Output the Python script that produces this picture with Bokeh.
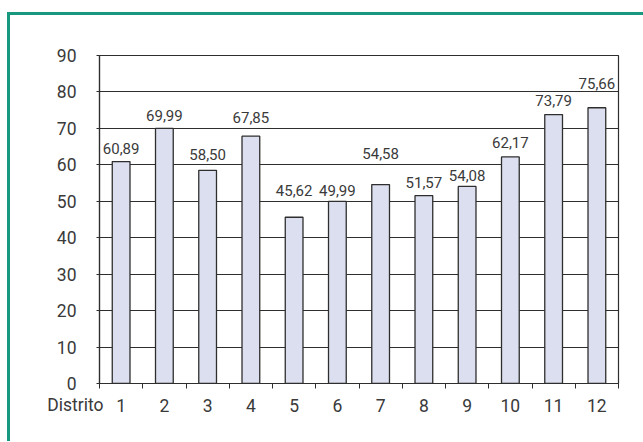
from bokeh.plotting import figure
from bokeh.layouts import column, row
from bokeh.models import Range1d, FixedTicker, Label, ColumnDataSource, Div
from bokeh.core.properties import value
from bokeh.embed import file_html
from bokeh.resources import INLINE

# ---- data ----
districts = ["1", "2", "3", "4", "5", "6", "7", "8", "9", "10", "11", "12"]
scores = [60.89, 69.99, 58.50, 67.85, 45.62, 49.99, 54.58, 51.57, 54.08, 62.17, 73.79, 75.66]
y_ticks = [0, 10, 20, 30, 40, 50, 60, 70, 80, 90]
category_title = "Distrito"

# ---- layout of the value labels (pixels above each bar top) ----
label_lift_px = [13, 13, 16, 19, 27, 11, 31, 13, 11, 14, 14, 24]

positions = list(range(1, len(districts) + 1))
value_text = [f"{v:.2f}".replace(".", ",") for v in scores]

src = ColumnDataSource(dict(x=positions, top=scores, label=value_text,
                            lift=[-d for d in label_lift_px]))

FONT = "Roboto"
TXT = "#3a3a3a"
LINE = "#2e2e2e"
TEAL = "#17987f"

p = figure(width=633, height=420, output_backend="svg", toolbar_location=None,
           x_range=Range1d(0.5, len(districts) + 0.5), y_range=Range1d(0, 90),
           min_border_left=89, min_border_right=25, min_border_top=40, min_border_bottom=52,
           background_fill_color="white", border_fill_color="white", margin=0)

p.outline_line_color = LINE
p.outline_line_width = 1.2

# grid
p.xgrid.grid_line_color = None
p.ygrid.grid_line_color = LINE
p.ygrid.grid_line_width = 1.2
p.ygrid.ticker = FixedTicker(ticks=y_ticks)

# y axis
ya = p.yaxis[0]
ya.ticker = FixedTicker(ticks=y_ticks)
ya.axis_line_color = LINE
ya.axis_line_width = 1.2
ya.major_tick_line_color = LINE
ya.major_tick_in = 0
ya.major_tick_out = 3
ya.minor_tick_line_color = None
ya.major_label_standoff = 20
ya.major_label_text_font = FONT
ya.major_label_text_font_size = "17.5px"
ya.major_label_text_color = TXT

# x axis: labels at bar centres, tick marks between categories
xa = p.xaxis[0]
bounds = [i + 0.5 for i in range(0, len(districts) + 1)]
xa.ticker = FixedTicker(ticks=positions, minor_ticks=bounds)
xa.major_label_overrides = {pos: d for pos, d in zip(positions, districts)}
xa.axis_line_color = LINE
xa.axis_line_width = 1.2
xa.major_tick_line_color = None
xa.major_tick_in = 0
xa.major_tick_out = 0
xa.minor_tick_line_color = LINE
xa.minor_tick_in = 0
xa.minor_tick_out = 5
xa.major_label_standoff = 10
xa.major_label_text_font = FONT
xa.major_label_text_font_size = "17.5px"
xa.major_label_text_color = TXT

# bars
p.vbar(x="x", top="top", bottom=0, width=0.41, source=src,
       fill_color="#dcdfef", line_color=LINE, line_width=1.3)

# value labels
p.text(x="x", y="top", text="label", source=src, y_offset="lift",
       text_align="center", text_baseline="middle",
       text_font=value(FONT), text_font_size="15px", text_color=TXT)

# category title left of the first tick label (side panel => not clipped to frame)
p.add_layout(Label(x=0.5, y=0, x_offset=4, y_offset=-21, text=category_title,
                   text_align="right", text_baseline="middle",
                   text_font=FONT, text_font_size="17.5px", text_color=TXT), "above")

# teal frame round the chart: its top and left edges
top_edge = Div(text="", width=636, height=3, margin=(12, 0, 0, 7),
               styles={"background-color": TEAL})
left_edge = Div(text="", width=3, height=426, margin=(0, 0, 0, 7),
                styles={"background-color": TEAL})
page = column(top_edge, row(left_edge, p, spacing=0, margin=0), spacing=0, margin=0)

open("out.html", "w").write(file_html(page, INLINE))
